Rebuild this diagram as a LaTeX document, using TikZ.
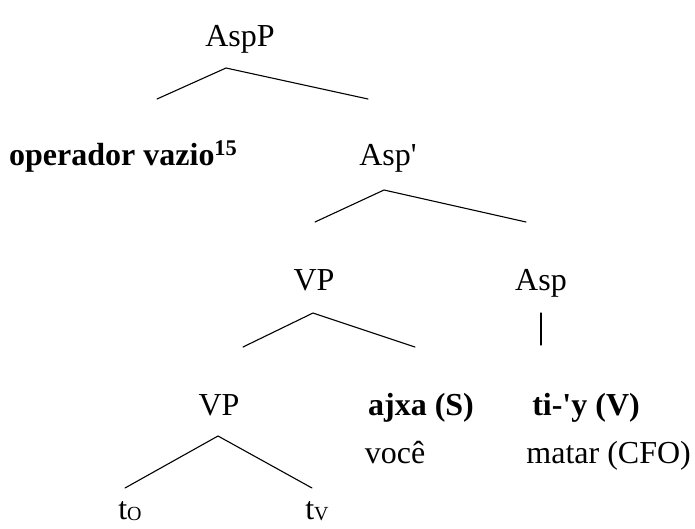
\documentclass[tikz,border=0pt]{standalone}
\usepackage{fontspec}
\setmainfont{Liberation Serif}[Ligatures=TeXOff]
\begin{document}
\begin{tikzpicture}[x=1pt,y=-1pt,
  lbl/.style={inner sep=0pt,anchor=base,font=\fontsize{32}{38}\selectfont},
  blbl/.style={lbl,font=\fontsize{32}{38}\selectfont\bfseries},
  branch/.style={line width=1.1pt,line cap=round}]
\useasboundingbox (0,0) rectangle (695,528);

% labels
\node[lbl] (aspP) at (240,46) {AspP};
\node[blbl,anchor=base west] (op) at (9,165) {operador vazio\textsuperscript{15}};
\node[lbl] (aspbar) at (388,165) {Asp'};
\node[lbl] (vp1) at (314,290) {VP};
\node[lbl] (asp) at (541,290) {Asp};
\node[lbl] (vp2) at (219,415) {VP};
\node[blbl] (ajxa) at (421,415) {ajxa (S)};
\node[blbl] (tiy) at (586,415) {ti-'y (V)};
\node[lbl] (voce) at (395,463) {você};
\node[lbl,anchor=base east] (matar) at (691,463) {matar (CFO)};
\node[lbl] (to) at (130,519) {t\raisebox{-1pt}{\fontsize{20}{20}\selectfont O}};
\node[lbl] (tv) at (317,519) {t\raisebox{-1pt}{\fontsize{20}{20}\selectfont V}};

% branch points
\coordinate (aspP-t) at (226,68);
\coordinate (aspP-l) at (157,99);
\coordinate (aspP-r) at (368,99);
\coordinate (aspbar-t) at (384,190);
\coordinate (aspbar-l) at (315,222);
\coordinate (aspbar-r) at (526,222);
\coordinate (vp1-t) at (313,313);
\coordinate (vp1-l) at (243,347);
\coordinate (vp1-r) at (415,347);
\coordinate (asp-t) at (541,313);
\coordinate (asp-b) at (541,345);
\coordinate (vp2-t) at (218,436);
\coordinate (vp2-l) at (125,488);
\coordinate (vp2-r) at (312,488);

% branches
\draw[branch] (aspP-l) -- (aspP-t) -- (aspP-r);
\draw[branch] (aspbar-l) -- (aspbar-t) -- (aspbar-r);
\draw[branch] (vp1-l) -- (vp1-t) -- (vp1-r);
\draw[branch] (asp-t) -- (asp-b);
\draw[branch] (vp2-l) -- (vp2-t) -- (vp2-r);
\end{tikzpicture}
\end{document}
